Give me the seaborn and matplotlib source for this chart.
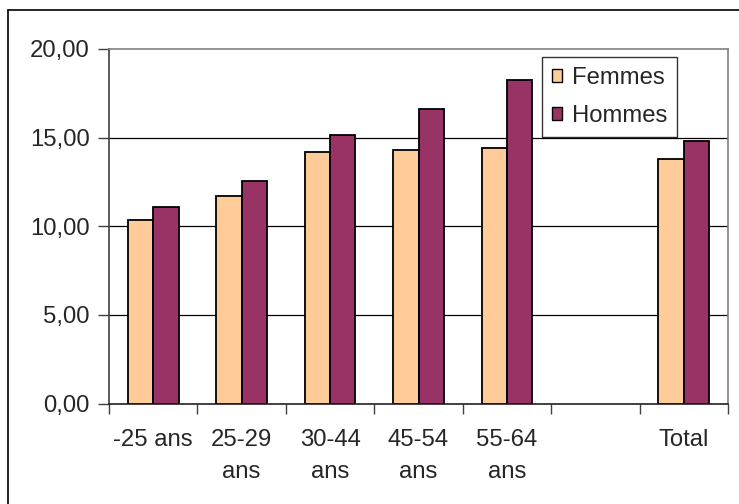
import matplotlib
matplotlib.use("Agg")
import matplotlib.pyplot as plt
from matplotlib.lines import Line2D
from matplotlib.ticker import FixedLocator, FuncFormatter
import numpy as np
import pandas as pd
import seaborn as sns

# Age groups (the blank slot separates the groups from the total)
categories = ["-25 ans", "25-29\nans", "30-44\nans", "45-54\nans", "55-64\nans", "", "Total"]
femmes = [10.37, 11.72, 14.21, 14.33, 14.42, np.nan, 13.80]
hommes = [11.08, 12.55, 15.17, 16.64, 18.25, np.nan, 14.83]
series = ["Femmes", "Hommes"]
colors = ["#FFCC99", "#993366"]
yticks = [0, 5, 10, 15, 20]

df = pd.DataFrame({
    "categorie": categories * 2,
    "valeur": femmes + hommes,
    "sexe": [series[0]] * len(categories) + [series[1]] * len(categories),
})

sns.set_style("white")
plt.rcParams["font.family"] = ["Liberation Sans", "DejaVu Sans"]
FS = 17.2

fig = plt.figure(figsize=(7.39, 5.04), dpi=100)
ax = fig.add_axes([109 / 739, 1 - 403.5 / 504, 619 / 739, 354.5 / 504])

sns.barplot(data=df.dropna(), x="categorie", y="valeur", hue="sexe",
            order=categories, hue_order=series, palette=colors,
            width=0.573, edgecolor="black", linewidth=1.3,
            saturation=1, ax=ax, legend=True)

ax.set_xlim(-0.5, len(categories) - 0.5)
ax.set_ylim(0, 20)
ax.set_xlabel("")
ax.set_ylabel("")

# horizontal gridlines
for v in yticks[1:-1]:
    ax.axhline(v, color="black", lw=0.9, zorder=0.5)

# y axis
ax.yaxis.set_major_locator(FixedLocator(yticks))
ax.yaxis.set_major_formatter(FuncFormatter(lambda v, p: f"{v:.2f}".replace(".", ",")))
ax.tick_params(axis="y", which="major", direction="out", length=8, width=1,
               color="#404040", pad=6, labelsize=FS, left=True)

# x axis: labels centred, ticks on category boundaries
ax.set_xticks(range(len(categories)))
ax.set_xticklabels(categories, fontsize=FS, linespacing=1.62, va="top")
ax.tick_params(axis="x", which="major", length=0, pad=18)
ax.xaxis.set_minor_locator(FixedLocator(np.arange(-0.5, len(categories), 1.0)))
ax.tick_params(axis="x", which="minor", direction="out", length=7, width=1,
               color="#404040", bottom=True)

for side in ["top", "right"]:
    ax.spines[side].set_visible(True)
    ax.spines[side].set_color("#808080")
    ax.spines[side].set_linewidth(1.2)
ax.spines["left"].set_color("#404040")
ax.spines["left"].set_linewidth(1.2)
ax.spines["bottom"].set_color("#202020")
ax.spines["bottom"].set_linewidth(1.2)

leg = ax.legend(loc="upper left", bbox_to_anchor=((541.7 - 109) / 619, (403.5 - 57) / 354.5),
                borderaxespad=0, frameon=True, fancybox=False, fontsize=FS,
                handlelength=0.43, handleheight=0.43, handletextpad=0.4,
                labelspacing=0.68, borderpad=0.42)
leg.get_frame().set_edgecolor("black")
leg.get_frame().set_linewidth(1.0)
for h in leg.legend_handles:
    h.set_edgecolor("black")
    h.set_linewidth(1.0)

# outer chart border
fig.add_artist(Line2D([8 / 739, 8 / 739], [0, 1 - 10 / 504], color="black", lw=1.2))
fig.add_artist(Line2D([8 / 739, 1], [1 - 10 / 504, 1 - 10 / 504], color="black", lw=1.2))

fig.savefig("out.png", dpi=100)
